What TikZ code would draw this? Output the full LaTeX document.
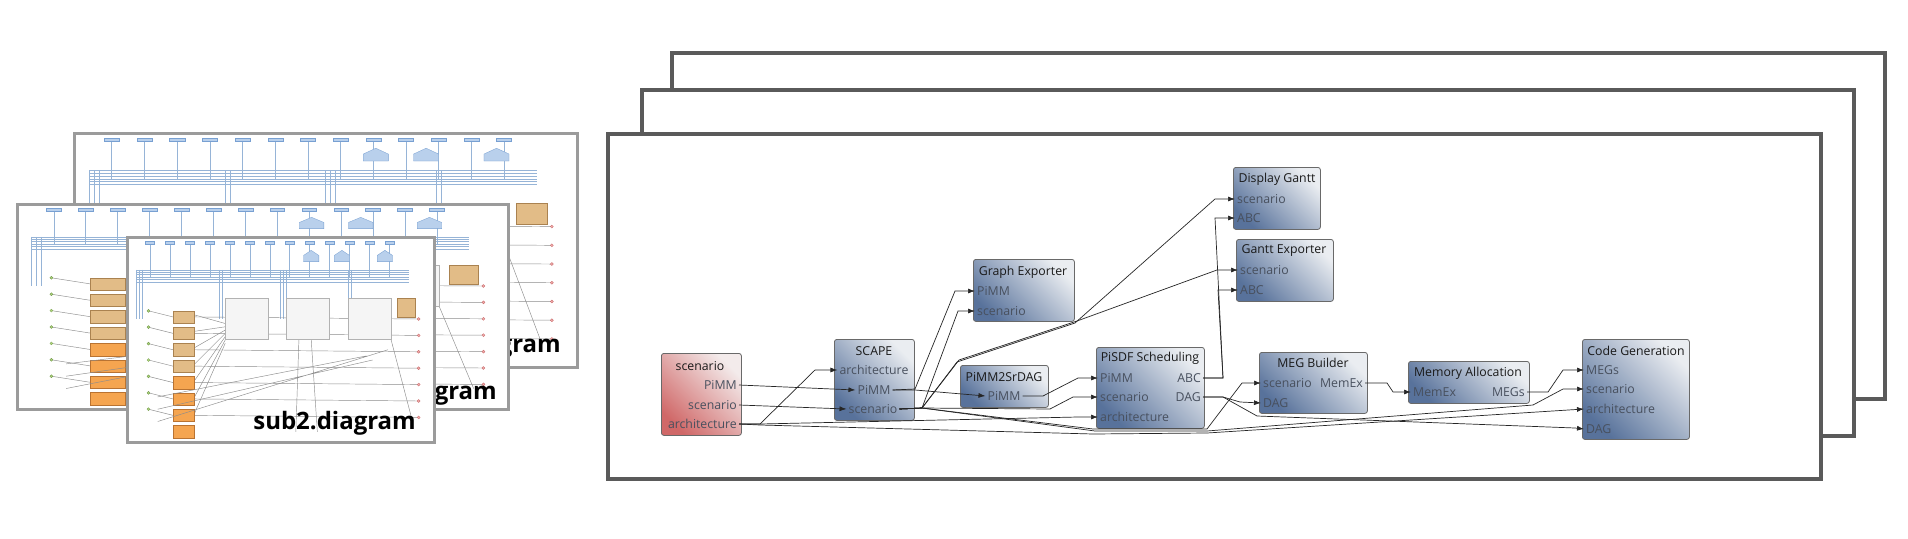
\documentclass[tikz,border=0pt]{standalone}
\usepackage{fontspec}
\setmainfont{Open Sans}
\usepackage{tikz}
\usetikzlibrary{arrows.meta}
\definecolor{blockdark}{RGB}{88,114,155}
\definecolor{blocklight}{RGB}{234,237,241}
\definecolor{sourcedark}{RGB}{208,104,104}
\definecolor{sourcelight}{RGB}{243,235,235}
\definecolor{blockline}{RGB}{105,105,105}
\definecolor{portgray}{RGB}{72,80,94}
\definecolor{framegray}{RGB}{90,90,90}
\definecolor{thumbgray}{RGB}{155,155,155}
\newcommand{\Miniature}[4]{%
  \begin{scope}[shift={(#1,#2)}, x=#3pt, y=-#4pt]
    % interface et bus de parametres
    \foreach \i in {0.06,0.125,...,0.88} {
      \draw[minibus] (\i+0.015,0.035) -- (\i+0.015,0.2);
      \filldraw[miniport] (\i,0.02) rectangle ++(0.03,0.015);
    }
    \foreach \j in {0.16,0.172,...,0.23} \draw[minibus] (0.03,\j) -- (0.92,\j);
    \foreach \i in {0.03,0.04,0.05,0.3,0.31,0.5,0.51,0.52,0.72,0.73} \draw[minibus] (\i,0.16) -- (\i,0.4);
    \foreach \i in {0.6,0.7,0.84} \filldraw[miniport] (\i-0.025,0.12) -- (\i-0.025,0.09) -- (\i,0.065) -- (\i+0.025,0.09) -- (\i+0.025,0.12) -- cycle;
    % acteurs
    \foreach \j in {0.36,0.44,...,0.92} {
      \draw[miniwire] (0.07,\j) -- (0.15,\j+0.03) (0.22,\j+0.03) -- (0.95,\j+0.04);
      \draw[miniwire] (0.22,\j+0.02) -- (0.32,0.35+\j/5);
      \filldraw[minidot] (0.07,\j) circle (1.5pt);
      \filldraw[miniend] (0.95,\j+0.04) circle (1.5pt);
    }
    \foreach \j in {0.36,0.44,...,0.6} \filldraw[minitan] (0.15,\j) rectangle ++(0.07,0.06);
    \foreach \j in {0.68,0.76,...,0.92} \filldraw[miniact] (0.15,\j) rectangle ++(0.07,0.06);
    \draw[miniwire] (0.1,0.9) -- (0.85,0.55) (0.1,0.84) -- (0.8,0.6) (0.1,0.78) -- (0.78,0.58)
      (0.55,0.95) -- (0.56,0.5) (0.62,0.95) -- (0.6,0.5) (0.86,0.5) -- (0.93,0.9);
    \foreach \i in {0.32,0.52,0.72} \filldraw[minibox] (\i,0.3) rectangle ++(0.14,0.2);
    \filldraw[minitan] (0.88,0.3) rectangle ++(0.06,0.09);
  \end{scope}}

\begin{document}
\begin{tikzpicture}[x=1pt, y=-1pt,
  block/.style={draw=blockline, line width=0.8pt, rounded corners=2.5pt, top color=blocklight, bottom color=blockdark, shading angle=-45, inner sep=0pt, anchor=north west},
  source/.style={block, top color=sourcelight, bottom color=sourcedark, shading angle=-45},
  title/.style={text=black!90, inner sep=0pt, font=\fontsize{12.3}{14}\selectfont},
  port/.style={text=portgray, inner xsep=2pt, inner ysep=0pt, text height=8.5pt, text depth=0pt, font=\fontsize{12.3}{14}\selectfont},
  wire/.style={draw=black!85, line width=0.7pt, -{Latex[length=7pt,width=5pt]}},
  frame/.style={draw=framegray, line width=4pt, fill=white},
  thumb/.style={draw=thumbgray, line width=3pt, fill=white},
  thumbtitle/.style={font=\fontsize{24}{26}\selectfont\bfseries, inner sep=0pt},
  minibus/.style={draw={rgb,255:red,150;green,180;blue,215}, line width=0.5pt},
  miniport/.style={fill={rgb,255:red,185;green,208;blue,236}, draw={rgb,255:red,120;green,160;blue,210}, line width=0.3pt},
  minidot/.style={fill={rgb,255:red,175;green,212;blue,125}, draw={rgb,255:red,110;green,150;blue,70}, line width=0.3pt},
  minitan/.style={fill={rgb,255:red,226;green,188;blue,135}, draw={rgb,255:red,170;green,130;blue,80}, line width=0.3pt},
  miniact/.style={fill={rgb,255:red,245;green,165;blue,80}, draw={rgb,255:red,185;green,115;blue,50}, line width=0.3pt},
  miniend/.style={fill={rgb,255:red,240;green,175;blue,175}, draw={rgb,255:red,200;green,100;blue,100}, line width=0.3pt},
  minibox/.style={fill=gray!8, draw=gray!60, line width=0.3pt},
  miniwire/.style={draw=black!45, line width=0.45pt}]
\useasboundingbox (0,0) rectangle (1908,538);

%Vignettes des sous-diagrammes
\draw[thumb] (74,133) rectangle (577,367);
\Miniature{74}{133}{503}{234}
\node[thumbtitle, anchor=east] (sub0) at (561,349) {gram};
\draw[thumb] (17,204) rectangle (508,409);
\Miniature{17}{204}{491}{205}
\node[thumbtitle, anchor=east] (sub1) at (497,396) {gram};
\draw[thumb] (127,237) rectangle (434,442);
\Miniature{127}{237}{307}{205}
\node[thumbtitle, anchor=east] (sub2) at (416,423) {sub2.diagram};

%Cadres empiles
\draw[frame] (672,53) rectangle (1885,399);
\draw[frame] (642,90) rectangle (1854,436);
\draw[frame] (608,134) rectangle (1821,479);

%Blocs
\node[source, minimum width=80pt, minimum height=82pt] (scn) at (661,353) {};
\node[block, minimum width=80pt, minimum height=81pt] (scape) at (834,339) {};
\node[block, minimum width=101pt, minimum height=62pt] (graphexp) at (973,259) {};
\node[block, minimum width=88pt, minimum height=42pt] (srdag) at (960,365) {};
\node[block, minimum width=108pt, minimum height=81pt] (sched) at (1096,347) {};
\node[block, minimum width=87pt, minimum height=62pt] (dispgantt) at (1233,167) {};
\node[block, minimum width=97pt, minimum height=62pt] (ganttexp) at (1236,239) {};
\node[block, minimum width=108pt, minimum height=61pt] (meg) at (1259,352) {};
\node[block, minimum width=121pt, minimum height=42pt] (memalloc) at (1408,361) {};
\node[block, minimum width=107pt, minimum height=100pt] (codegen) at (1582,339) {};

%Titres
\node[title] (scnT) at (700,366) {scenario};
\node[title] (scapeT) at (874,351) {SCAPE};
\node[title] (graphexpT) at (1023,272) {Graph Exporter};
\node[title] (srdagT) at (1004,377) {PiMM2SrDAG};
\node[title] (schedT) at (1150,358) {PiSDF Scheduling};
\node[title] (dispganttT) at (1277,179) {Display Gantt};
\node[title] (ganttexpT) at (1284,251) {Gantt Exporter};
\node[title] (megT) at (1313,363) {MEG Builder};
\node[title] (memallocT) at (1468,373) {Memory Allocation};
\node[title] (codegenT) at (1636,351) {Code Generation};

%Ports
\node[port, anchor=east] (scnPimm) at (739,385) {PiMM};
\node[port, anchor=east] (scnScen) at (739,405) {scenario};
\node[port, anchor=east] (scnArch) at (739,424) {architecture};
\node[port] (scapeArch) at (874,370) {architecture};
\node[port] (scapePimm) at (874,390) {PiMM};
\node[port] (scapeScen) at (873,409) {scenario};
\node[port, anchor=west] (graphexpPimm) at (975,291) {PiMM};
\node[port, anchor=west] (graphexpScen) at (975,311) {scenario};
\node[port] (srdagPimm) at (1004,396) {PiMM};
\node[port, anchor=west] (schedPimm) at (1098,378) {PiMM};
\node[port, anchor=west] (schedScen) at (1098,397) {scenario};
\node[port, anchor=west] (schedArch) at (1098,417) {architecture};
\node[port, anchor=east] (schedAbc) at (1203,378) {ABC};
\node[port, anchor=east] (schedDag) at (1203,397) {DAG};
\node[port, anchor=west] (dispganttScen) at (1235,199) {scenario};
\node[port, anchor=west] (dispganttAbc) at (1235,218) {ABC};
\node[port, anchor=west] (ganttexpScen) at (1238,270) {scenario};
\node[port, anchor=west] (ganttexpAbc) at (1238,290) {ABC};
\node[port, anchor=west] (megScen) at (1261,383) {scenario};
\node[port, anchor=east] (megMemex) at (1365,383) {MemEx};
\node[port, anchor=west] (megDag) at (1261,403) {DAG};
\node[port, anchor=west] (memallocMemex) at (1411,392) {MemEx};
\node[port, anchor=east] (memallocMegs) at (1527,392) {MEGs};
\node[port, anchor=west] (codegenMegs) at (1584,370) {MEGs};
\node[port, anchor=west] (codegenScen) at (1584,389) {scenario};
\node[port, anchor=west] (codegenArch) at (1584,409) {architecture};
\node[port, anchor=west] (codegenDag) at (1584,429) {DAG};

%Connexions
\draw[wire] (scnPimm.east) -- (scapePimm.west);
\draw[wire] (scnScen.east) -- (scapeScen.west);
\draw[wire] (scnArch.east) -- (760,424) -- (815,370) -- (scapeArch.west);
\draw[wire] (scnArch.east) -- (760,424) -- (1078,417) -- (schedArch.west);
\draw[wire] (scnArch.east) -- (760,425) -- (1093,434) -- (1207,433) -- (codegenArch.west);
\draw[wire] (scapePimm.east) -- (915,389) -- (955,291) -- (graphexpPimm.west);
\draw[wire] (scapePimm.east) -- (915,390) -- (srdagPimm.west);
\draw[wire] (scapeScen.east) -- (922,408) -- (958,311) -- (graphexpScen.west);
\draw[wire] (scapeScen.east) -- (922,408) -- (957,362) -- (1075,323) -- (1215,199) -- (dispganttScen.west);
\draw[wire] (scapeScen.east) -- (922,408) -- (959,360) -- (1077,321) -- (1217,270) -- (ganttexpScen.west);
\draw[wire] (scapeScen.east) -- (922,408) -- (1050,409) -- (1073,397) -- (schedScen.west);
\draw[wire] (scapeScen.east) -- (922,408) -- (1093,429) -- (1207,429) -- (1242,383) -- (megScen.west);
\draw[wire] (scapeScen.east) -- (922,408) -- (1095,431) -- (1207,431) -- (1533,405) -- (1563,389) -- (codegenScen.west);
\draw[wire] (srdagPimm.east) -- (1043,396) -- (1078,378) -- (schedPimm.west);
\draw[wire] (schedAbc.east) -- (1223,378) -- (1215,218) -- (dispganttAbc.west);
\draw[wire] (schedAbc.east) -- (1223,378) -- (1218,290) -- (ganttexpAbc.west);
\draw[wire] (schedDag.east) -- (1223,397) -- (1240,402) -- (megDag.west);
\draw[wire] (schedDag.east) -- (1223,397) -- (1257,416) -- (1575,428) -- (codegenDag.west);
\draw[wire] (megMemex.east) -- (1387,383) -- (1393,392) -- (memallocMemex.west);
\draw[wire] (memallocMegs.east) -- (1548,392) -- (1563,370) -- (codegenMegs.west);

\end{tikzpicture}
\end{document}
